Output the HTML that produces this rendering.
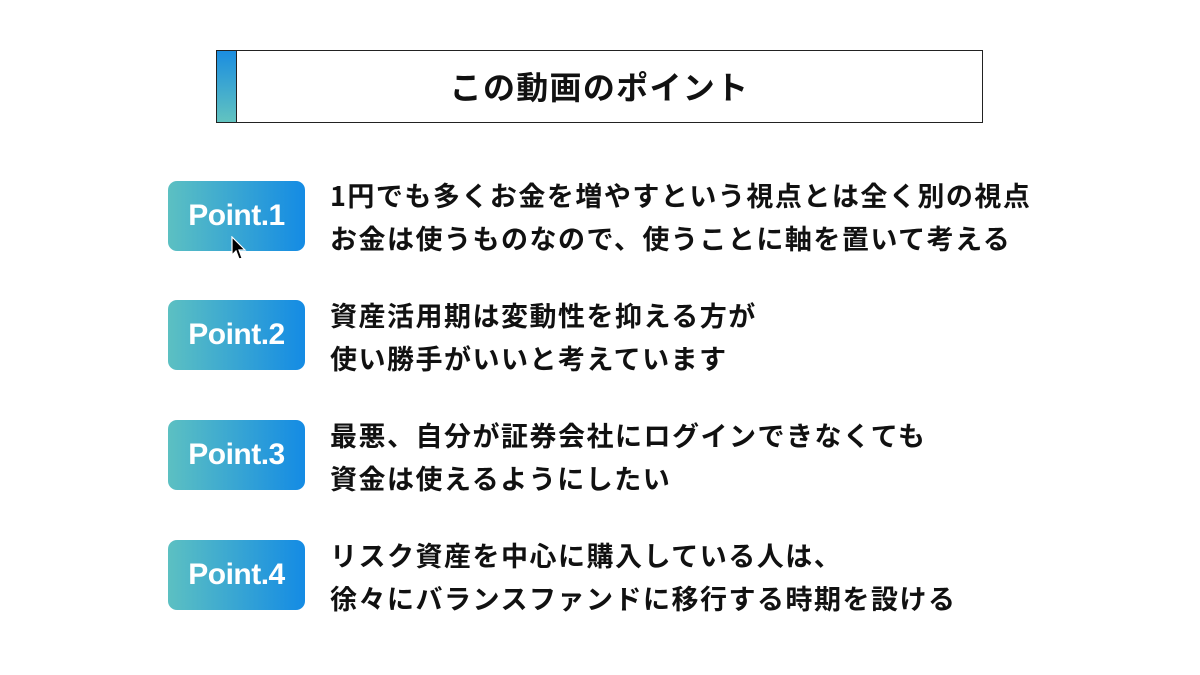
<!DOCTYPE html>
<html><head><meta charset="utf-8"><style>
body{margin:0;width:1200px;height:675px;background:#fff;position:relative;overflow:hidden;font-family:"Liberation Sans","Noto Sans CJK JP",sans-serif}
.title{position:absolute;left:216px;top:50px;width:765px;height:71px;border:1.5px solid #222;}
.bar{position:absolute;left:0;top:0;width:19px;height:100%;background:linear-gradient(#1a8de0,#62c3c0);border-right:1.5px solid #222}
.title span{position:absolute;left:0;right:0;top:0;line-height:71px;text-align:center;font-size:32px;font-weight:bold;color:#111;letter-spacing:1.3px;font-family:"Noto Sans CJK JP",sans-serif}
.badge{position:absolute;left:168px;width:137px;height:70px;border-radius:9px;background:linear-gradient(90deg,#5cc0c2,#148be4);color:#fff;font-weight:bold;font-size:30px;text-align:center;line-height:70px;letter-spacing:-0.5px}
.txt{position:absolute;left:330px;font-size:27px;font-weight:bold;color:#111;line-height:43px;font-family:"Noto Sans CJK JP",sans-serif;letter-spacing:1.5px;white-space:nowrap}
</style></head><body>
<div class="title"><div class="bar"></div><span>この動画のポイント</span></div>
<div class="badge" style="top:181px">Point.1</div>
<div class="txt" style="top:173px">1円でも多くお金を増やすという視点とは全く別の視点<br>お金は使うものなので、使うことに軸を置いて考える</div>
<div class="badge" style="top:300px">Point.2</div>
<div class="txt" style="top:293px">資産活用期は変動性を抑える方が<br>使い勝手がいいと考えています</div>
<div class="badge" style="top:420px">Point.3</div>
<div class="txt" style="top:413px">最悪、自分が証券会社にログインできなくても<br>資金は使えるようにしたい</div>
<div class="badge" style="top:540px">Point.4</div>
<div class="txt" style="top:533px">リスク資産を中心に購入している人は、<br>徐々にバランスファンドに移行する時期を設ける</div>
<svg style="position:absolute;left:231px;top:236px" width="16" height="26" viewBox="0 0 16 26"><path d="M1 1 L1 19 L5 15 L8 23 L11 22 L8 14 L14 14 Z" fill="#000" stroke="#fff" stroke-width="1.2"/></svg>
</body></html>
